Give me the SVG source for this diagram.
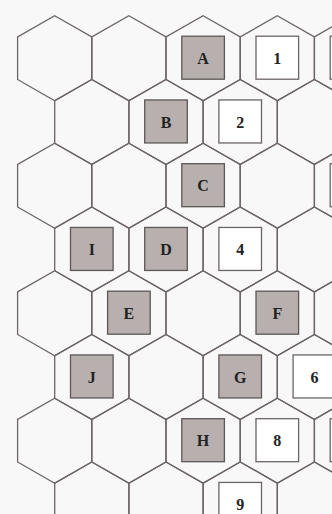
<svg xmlns="http://www.w3.org/2000/svg" xmlns:xlink="http://www.w3.org/1999/xlink" width="332" height="514" viewBox="0 0 332 514">
  <style>
    .hex { fill: none; stroke: #6b6464; stroke-width: 1.3; stroke-linejoin: miter; }
    .g { fill: #b7b0ae; stroke: #5d5757; stroke-width: 1.3; }
    .w { fill: #ffffff; stroke: #6b6464; stroke-width: 1.3; }
    .t { font-family: "Liberation Serif", "Times New Roman", serif; font-weight: bold; font-size: 16px; fill: #222; text-anchor: middle; }
  </style>
  <defs>
    <polygon id="hx" class="hex" points="0,-42.5 37.1,-21.25 37.1,21.25 0,42.5 -37.1,21.25 -37.1,-21.25"/>
    <rect id="bx" x="-21.3" y="-22" width="42.6" height="43"/>
  </defs>
  <rect x="0" y="0" width="332" height="514" fill="#f8f8f8"/>
  <g id="grid">
    <use href="#hx" x="54.7" y="58.2"/><use href="#hx" x="128.9" y="58.2"/><use href="#hx" x="203.1" y="58.2"/><use href="#hx" x="277.3" y="58.2"/><use href="#hx" x="351.5" y="58.2"/>
    <use href="#hx" x="91.8" y="121.95"/><use href="#hx" x="166" y="121.95"/><use href="#hx" x="240.2" y="121.95"/><use href="#hx" x="314.4" y="121.95"/>
    <use href="#hx" x="54.7" y="185.7"/><use href="#hx" x="128.9" y="185.7"/><use href="#hx" x="203.1" y="185.7"/><use href="#hx" x="277.3" y="185.7"/><use href="#hx" x="351.5" y="185.7"/>
    <use href="#hx" x="91.8" y="249.45"/><use href="#hx" x="166" y="249.45"/><use href="#hx" x="240.2" y="249.45"/><use href="#hx" x="314.4" y="249.45"/>
    <use href="#hx" x="54.7" y="313.2"/><use href="#hx" x="128.9" y="313.2"/><use href="#hx" x="203.1" y="313.2"/><use href="#hx" x="277.3" y="313.2"/><use href="#hx" x="351.5" y="313.2"/>
    <use href="#hx" x="91.8" y="376.95"/><use href="#hx" x="166" y="376.95"/><use href="#hx" x="240.2" y="376.95"/><use href="#hx" x="314.4" y="376.95"/>
    <use href="#hx" x="54.7" y="440.7"/><use href="#hx" x="128.9" y="440.7"/><use href="#hx" x="203.1" y="440.7"/><use href="#hx" x="277.3" y="440.7"/><use href="#hx" x="351.5" y="440.7"/>
    <use href="#hx" x="91.8" y="504.45"/><use href="#hx" x="166" y="504.45"/><use href="#hx" x="240.2" y="504.45"/><use href="#hx" x="314.4" y="504.45"/>
  </g>
  <g id="A"><use href="#bx" class="g" x="203.1" y="58.2"/><text class="t" x="203.1" y="63.9">A</text></g>
  <g id="n1"><use href="#bx" class="w" x="277.3" y="58.2"/><text class="t" x="277.3" y="63.9">1</text></g>
  <g id="r0e"><use href="#bx" class="w" x="351.5" y="58.2"/></g>
  <g id="B"><use href="#bx" class="g" x="166" y="121.95"/><text class="t" x="166" y="127.65">B</text></g>
  <g id="n2"><use href="#bx" class="w" x="240.2" y="121.95"/><text class="t" x="240.2" y="127.65">2</text></g>
  <g id="C"><use href="#bx" class="g" x="203.1" y="185.7"/><text class="t" x="203.1" y="191.4">C</text></g>
  <g id="r2e"><use href="#bx" class="w" x="351.5" y="185.7"/></g>
  <g id="I"><use href="#bx" class="g" x="91.8" y="249.45"/><text class="t" x="91.8" y="255.15">I</text></g>
  <g id="D"><use href="#bx" class="g" x="166" y="249.45"/><text class="t" x="166" y="255.15">D</text></g>
  <g id="n4"><use href="#bx" class="w" x="240.2" y="249.45"/><text class="t" x="240.2" y="255.15">4</text></g>
  <g id="E"><use href="#bx" class="g" x="128.9" y="313.2"/><text class="t" x="128.9" y="318.9">E</text></g>
  <g id="F"><use href="#bx" class="g" x="277.3" y="313.2"/><text class="t" x="277.3" y="318.9">F</text></g>
  <g id="J"><use href="#bx" class="g" x="91.8" y="376.95"/><text class="t" x="91.8" y="382.65">J</text></g>
  <g id="G"><use href="#bx" class="g" x="240.2" y="376.95"/><text class="t" x="240.2" y="382.65">G</text></g>
  <g id="n6"><use href="#bx" class="w" x="314.4" y="376.95"/><text class="t" x="314.4" y="382.65">6</text></g>
  <g id="H"><use href="#bx" class="g" x="203.1" y="440.7"/><text class="t" x="203.1" y="446.4">H</text></g>
  <g id="n8"><use href="#bx" class="w" x="277.3" y="440.7"/><text class="t" x="277.3" y="446.4">8</text></g>
  <g id="r6e"><use href="#bx" class="w" x="351.5" y="440.7"/></g>
  <g id="n9"><use href="#bx" class="w" x="240.2" y="504.45"/><text class="t" x="240.2" y="510.15">9</text></g>
  <g id="connectors"></g>
</svg>
